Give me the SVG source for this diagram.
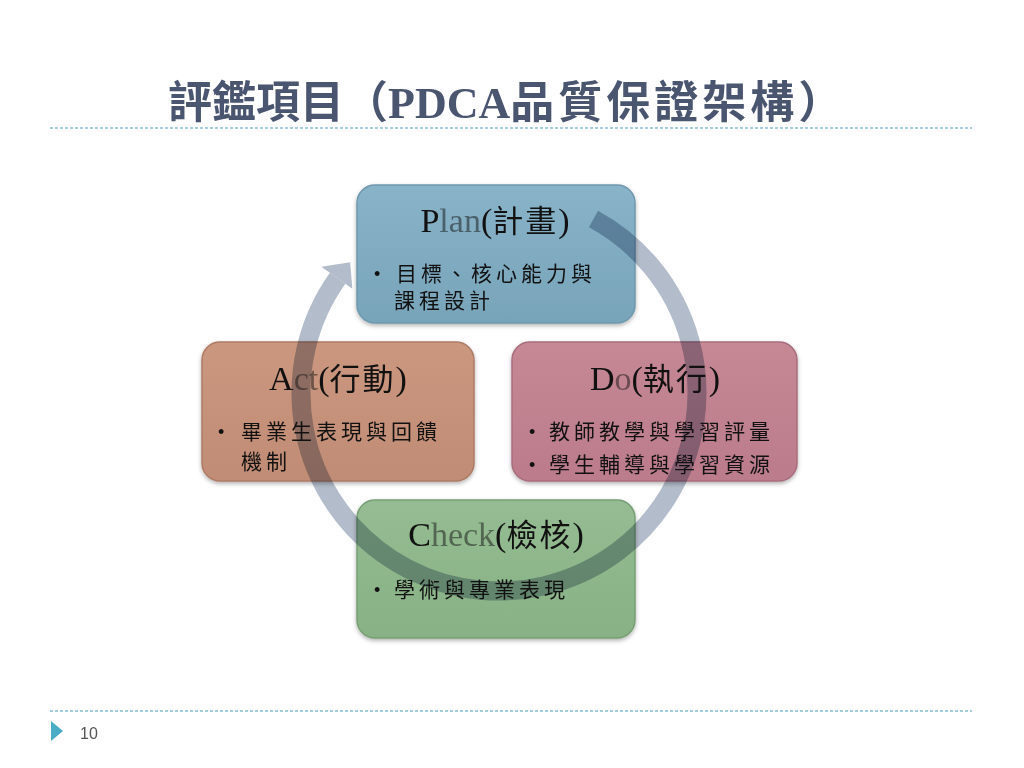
<svg xmlns="http://www.w3.org/2000/svg" width="1024" height="768" viewBox="0 0 1024 768">
<style>
.head{font-family:"Liberation Serif","Noto Sans CJK TC",serif;font-size:44px;fill:#4a5570;font-weight:bold}
.dash{stroke:#86bed2;stroke-width:1.3;stroke-dasharray:3 2;fill:none}
.box{mix-blend-mode:multiply;stroke-width:1.5;filter:url(#sh)}
.ttl{font-family:"Liberation Serif","Noto Sans CJK TC",serif;font-size:34px;fill:#111;text-anchor:middle}
.cj{font-size:31px;letter-spacing:2px}
.lt{fill-opacity:0.5}
.body{font-family:"Liberation Serif","Noto Sans CJK TC",serif;font-size:21px;fill:#111;letter-spacing:4px}
.bul{font-family:"Liberation Sans",sans-serif;font-size:18px;fill:#111}
.ring{fill:none;stroke:#b3bcca;stroke-width:19}
</style>
<defs>
<filter id="sh" x="-10%" y="-10%" width="120%" height="125%">
<feDropShadow dx="0" dy="2" stdDeviation="2" flood-color="#000" flood-opacity="0.3"/>
</filter>
<linearGradient id="gP" x1="0" y1="0" x2="0" y2="1"><stop offset="0" stop-color="#88b3c8"/><stop offset="1" stop-color="#78a4ba"/></linearGradient>
<linearGradient id="gD" x1="0" y1="0" x2="0" y2="1"><stop offset="0" stop-color="#c68895"/><stop offset="1" stop-color="#bb7b8b"/></linearGradient>
<linearGradient id="gA" x1="0" y1="0" x2="0" y2="1"><stop offset="0" stop-color="#cc977f"/><stop offset="1" stop-color="#c18c75"/></linearGradient>
<linearGradient id="gC" x1="0" y1="0" x2="0" y2="1"><stop offset="0" stop-color="#95bc92"/><stop offset="1" stop-color="#88b185"/></linearGradient>
</defs>
<rect width="1024" height="768" fill="#fff"/>
<g id="header">
<text class="head" x="168" y="118">評鑑項目（PDCA<tspan letter-spacing="4">品質保證架構）</tspan></text>
<line class="dash" x1="50" y1="128" x2="972" y2="128"/>
</g>
<g id="connectors">
<path class="ring" d="M 593.5 219.0 A 198 198 0 1 1 337.6 278.3"/>
<polygon points="321.3,266.7 350.2,262.3 352.3,288.7" fill="#b3bcca"/>
</g>
<g id="plan">
<rect class="box" x="357" y="185" width="278" height="138" rx="18" fill="url(#gP)" stroke="#6e98ad"/>
<text class="ttl" x="495" y="232">P<tspan class="lt">lan</tspan>(<tspan class="cj">計畫</tspan>)</text>
<text class="bul" x="374" y="280">•</text>
<text class="body" x="396" y="281">目標、核心能力與</text>
<text class="body" x="394" y="308">課程設計</text>
</g>
<g id="do">
<rect class="box" x="512" y="342" width="285" height="139" rx="18" fill="url(#gD)" stroke="#a86d7c"/>
<text class="ttl" x="655" y="390">D<tspan class="lt">o</tspan>(<tspan class="cj">執行</tspan>)</text>
<text class="bul" x="529" y="438">•</text>
<text class="body" x="549" y="439">教師教學與學習評量</text>
<text class="bul" x="529" y="471">•</text>
<text class="body" x="549" y="472">學生輔導與學習資源</text>
</g>
<g id="act">
<rect class="box" x="202" y="342" width="272" height="139" rx="18" fill="url(#gA)" stroke="#ad7b65"/>
<text class="ttl" x="338" y="390">A<tspan class="lt">ct</tspan>(<tspan class="cj">行動</tspan>)</text>
<text class="bul" x="218" y="438">•</text>
<text class="body" x="241" y="439">畢業生表現與回饋</text>
<text class="body" x="241" y="469">機制</text>
</g>
<g id="check">
<rect class="box" x="357" y="500" width="278" height="138" rx="18" fill="url(#gC)" stroke="#779f74"/>
<text class="ttl" x="496" y="546">C<tspan class="lt">heck</tspan>(<tspan class="cj">檢核</tspan>)</text>
<text class="bul" x="374" y="596">•</text>
<text class="body" x="394" y="597">學術與專業表現</text>
</g>
<g id="footer">
<line class="dash" x1="50" y1="711" x2="972" y2="711"/>
<polygon points="51,721 63,731 51,741" fill="#4bacc6"/>
<text x="80" y="739" font-family="Liberation Sans, sans-serif" font-size="16" fill="#555">10</text>
</g>
</svg>
